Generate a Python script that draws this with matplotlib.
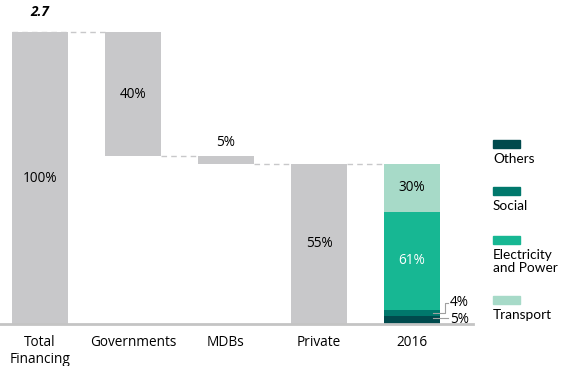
import matplotlib.pyplot as plt
from matplotlib.patches import Rectangle

plt.rcParams['font.family'] = ['Open Sans', 'DejaVu Sans']

# waterfall data (share of total financing, %)
categories = ['Total\nFinancing', 'Governments', 'MDBs', 'Private', '2016']
step_values = [100, 42.5, 2.7, 54.8]
step_labels = ['100%', '40%', '5%', '55%']
total_value = '2.7'

# 2016 split (share of the 2016 bar, %)
sectors = ['Others', 'Social', 'Electricity\nand Power', 'Transport']
sector_shares = [5, 4, 61, 30]
sector_labels = ['5%', '4%', '61%', '30%']
sector_colors = ['#004a4d', '#00786c', '#17b793', '#a7dac8']

grey = '#c8c8ca'
W, H = 565, 366
fig = plt.figure(figsize=(W / 100, H / 100), dpi=100)
base_px = 42  # baseline from bottom in pixels
ax = fig.add_axes([0, base_px / H, 1, 1 - base_px / H])
px_per_pct = 2.92
ax.set_xlim(-40 / 93, (W - 40) / 93)
ax.set_ylim(0, (H - base_px) / px_per_pct)
for s in ax.spines.values():
    s.set_visible(False)
ax.set_yticks([])

bw = 0.6
x = list(range(len(categories)))

# waterfall bars
bottoms = [0]
level = step_values[0]
for v in step_values[1:3]:
    level -= v
    bottoms.append(level)
bottoms.append(0)
ax.bar(x[:4], step_values, bottom=bottoms, width=bw, color=grey, zorder=2)

# stacked 2016
priv = step_values[3]
b = 0
seg_pos = []
for share, col in zip(sector_shares, sector_colors):
    h = priv * share / 100
    ax.bar(x[4], h, bottom=b, width=bw, color=col, zorder=2)
    seg_pos.append((b, h))
    b += h

# dashed connectors
tops = [step_values[0], bottoms[1], bottoms[2], priv]
for i in range(4):
    ax.plot([x[i] + bw / 2 - (bw if i == 0 else 0), x[i + 1] - bw / 2], [tops[i], tops[i]],
            ls=(0, (4, 3)), color='#c8c8ca', lw=1, zorder=1)

# baseline
ax.plot([-40 / 93, (473 - 40) / 93], [0, 0], color='#c4c4c4', lw=2, zorder=3, clip_on=False)

# labels inside / above bars
fs = 9.8
ax.text(x[0], step_values[0] / 2, step_labels[0], ha='center', va='center', fontsize=fs)
ax.text(x[1], bottoms[1] + step_values[1] / 2, step_labels[1], ha='center', va='center', fontsize=fs)
ax.text(x[2], bottoms[2] + step_values[2] + 2, step_labels[2], ha='center', va='bottom', fontsize=fs)
ax.text(x[3], step_values[3] / 2, step_labels[3], ha='center', va='center', fontsize=fs)
ax.text(x[0], step_values[0] + 4.5, total_value, ha='center', va='bottom', fontsize=fs,
        fontweight='bold', fontstyle='italic')

(b_tr, h_tr) = seg_pos[3]
(b_el, h_el) = seg_pos[2]
ax.text(x[4], b_tr + h_tr / 2, sector_labels[3], ha='center', va='center', fontsize=fs)
ax.text(x[4], b_el + h_el / 2, sector_labels[2], ha='center', va='center', fontsize=fs, color='white')

# leader lines for small segments
xr = x[4] + 0.23
(b_ot, h_ot) = seg_pos[0]
(b_so, h_so) = seg_pos[1]
y_so = b_so + h_so / 2
ax.plot([xr, xr + 0.12, xr + 0.12, xr + 0.16], [y_so, y_so, y_so + 3.5, y_so + 3.5],
        color='#a0a0a0', lw=0.8, zorder=4, clip_on=False)
ax.text(xr + 0.18, y_so + 3.5, sector_labels[1], ha='left', va='center', fontsize=fs)
y_ot = b_ot + h_ot / 2 + 0.8
ax.plot([xr, xr + 0.16], [y_ot, y_ot], color='#a0a0a0', lw=0.8, zorder=4)
ax.text(xr + 0.18, y_ot - 0.5, sector_labels[0], ha='left', va='center', fontsize=fs)

# category labels
ax.set_xticks(x)
ax.set_xticklabels(categories, fontsize=fs, linespacing=1.15)
ax.tick_params(axis='x', length=0, pad=8)

# legend (patch above text)
leg_top_px = [140, 187, 236, 296]
for name, col, ty in zip(sectors, sector_colors, leg_top_px):
    fig.patches.append(Rectangle((493 / W, 1 - (ty + 8) / H), 27 / W, 8 / H,
                                 transform=fig.transFigure, color=col))
    fig.text(493 / W, 1 - (ty + 13) / H, name, ha='left', va='top', fontsize=fs,
             family=['Lato', 'DejaVu Sans'], linespacing=1.1)

fig.savefig('out.png', dpi=100)
